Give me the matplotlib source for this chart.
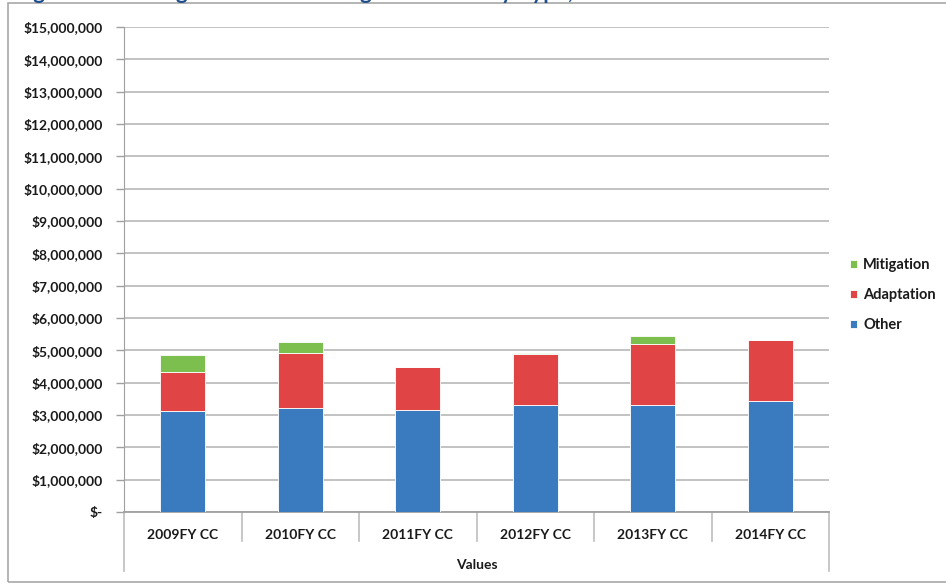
import numpy as np
import matplotlib.pyplot as plt
import matplotlib.transforms as mtransforms
from matplotlib.patches import Rectangle
from matplotlib.ticker import FuncFormatter

plt.rcParams['font.family'] = ['Lato', 'DejaVu Sans']
plt.rcParams['font.weight'] = 'bold'

# funding per fiscal year, in dollars
years = ['2009FY CC', '2010FY CC', '2011FY CC', '2012FY CC', '2013FY CC', '2014FY CC']
other = [3120000, 3210000, 3150000, 3310000, 3310000, 3430000]
adaptation = [1200000, 1720000, 1330000, 1580000, 1890000, 1890000]
mitigation = [540000, 320000, 0, 20000, 250000, 0]

c_other = '#3A7BC0'
c_adapt = '#E04444'
c_mitig = '#7CBF4E'
txt = '#1A1A1A'

fig = plt.figure(figsize=(9.46, 5.87), dpi=100)
ax = fig.add_axes([124/946, 1-512/587, (829-124)/946, (512-27)/587])

x = np.arange(len(years))
w = 0.385
ax.bar(x, other, w, color=c_other, edgecolor='white', linewidth=0.6, label='Other', zorder=3)
ax.bar(x, adaptation, w, bottom=other, color=c_adapt, edgecolor='white', linewidth=0.6,
       label='Adaptation', zorder=3)
bottom2 = np.array(other) + np.array(adaptation)
ax.bar(x, mitigation, w, bottom=bottom2, color=c_mitig, edgecolor='white', linewidth=0.6,
       label='Mitigation', zorder=3)

ax.set_xlim(-0.5, len(years) - 0.5)
ax.set_ylim(0, 15000000)
ax.set_yticks(np.arange(0, 15000001, 1000000))
ax.yaxis.set_major_formatter(FuncFormatter(lambda v, p: '$-' if v == 0 else f'${v:,.0f}'))
ax.tick_params(axis='y', length=6, width=1, color='#A0A0A0', pad=9, labelsize=10,
               labelcolor=txt)
ax.grid(axis='y', color='#BDBDBD', linewidth=1.3, zorder=0)

for s in ['top', 'right']:
    ax.spines[s].set_visible(False)
ax.spines['left'].set_color('#A0A0A0')
ax.spines['bottom'].set_color('#A0A0A0')
ax.spines['bottom'].set_linewidth(1.3)

ax.set_xticks(x)
ax.set_xticklabels(years, fontsize=10, color=txt)
ax.tick_params(axis='x', length=0, pad=12)

# category dividers below the axis
trans = mtransforms.blended_transform_factory(ax.transData, fig.transFigure)
for b in np.arange(0.5, len(years) - 0.5, 1.0):
    ax.plot([b, b], [1-512/587, 1-541/587], color='#BDBDBD', lw=1.2, transform=trans, clip_on=False)
for b in [-0.5, len(years) - 0.5]:
    ax.plot([b, b], [1-512/587, 1-571/587], color='#BDBDBD', lw=1.2, transform=trans, clip_on=False)
ax.text((len(years) - 1) / 2, 1-565/587, 'Values', transform=trans, ha='center', va='center',
        fontsize=10, color=txt)

# legend
handles, labels = ax.get_legend_handles_labels()
leg = fig.legend(handles[::-1], labels[::-1], loc='center left', bbox_to_anchor=(837/946, 1-295/587),
                 frameon=False, fontsize=10.5, handlelength=0.5, handleheight=0.5,
                 handletextpad=0.4, labelspacing=1.1)
for t in leg.get_texts():
    t.set_color(txt)

# outer frame and clipped heading
fig.add_artist(Rectangle((8/946, 1-582/587), 1.2, (582-3)/587, transform=fig.transFigure,
                         fill=False, edgecolor='#A8A8A8', linewidth=1.2))
fig.text(15/946, 1.0 + 1/587, 'Figure 3: Funding for Climate Change Activities by Type, FY2009-2014',
         ha='left', va='baseline', fontsize=16, color='#1F4E8C', fontweight='bold')

fig.savefig('out.png', dpi=100)
